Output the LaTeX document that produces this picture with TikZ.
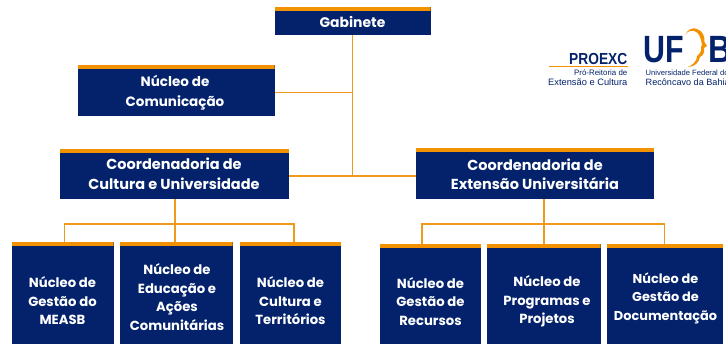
\documentclass[tikz,border=0pt]{standalone}
\usepackage{fontspec}
\newfontfamily\boxfont{Poppins}
\newfontfamily\logofont{Liberation Sans}
\definecolor{navy}{HTML}{03226B}
\definecolor{orng}{HTML}{F39200}
\definecolor{lline}{HTML}{F09A1C}
\tikzset{
 boxshape/.style={fill=navy,draw=none,inner sep=0pt,outer sep=0pt,
   path picture={\fill[orng] (path picture bounding box.north west) rectangle ([yshift=-4pt]path picture bounding box.north east);}},
 boxtext/.style={text=white,align=center,inner sep=0pt,font=\boxfont\bfseries\fontsize{13.2}{18.5}\selectfont},
 toptext/.style={text=white,align=center,inner sep=0pt,font=\boxfont\bfseries\fontsize{#1}{19.5}\selectfont},
 conn/.style={draw=lline,line width=1.9pt},
 logotxt/.style={inner sep=0pt,text=navy,font=\logofont}
}
% name, x1, y1, x2, y2
\newcommand{\orgbox}[5]{\node[boxshape,minimum width={(#4-#2)*1pt},minimum height={(#5-#3)*1pt}] (#1) at ({(#2+#4)/2},{(#3+#5)/2}) {};}
\begin{document}
\begin{tikzpicture}[x=1pt,y=-1pt]
\useasboundingbox (0,0) rectangle (726,344);
\begin{scope}
\clip (0,0) rectangle (726,344);
\orgbox{gab}{274.5}{7}{430.5}{35}
\orgbox{com}{78}{65}{274.5}{116}
\orgbox{cc}{60}{149}{289}{199.5}
\orgbox{ce}{416}{148}{654}{199.5}
\orgbox{n1}{12}{242}{113.5}{346}
\orgbox{n2}{120}{242}{232.5}{346}
\orgbox{n3}{239.5}{242}{341}{346}
\orgbox{n4}{379.5}{244}{481}{346}
\orgbox{n5}{487}{244}{600.5}{346}
\orgbox{n6}{607}{244}{723}{346}

\node[toptext=13.9] (tgab) at (352.5,22) {Gabinete};
\node[toptext=13.5] (tcom) at (175,92.5) {Núcleo de\\Comunicação};
\node[toptext=14.5] (tcc) at (174,174) {Coordenadoria de\\Cultura e Universidade};
\node[toptext=14.5] (tce) at (535,174.5) {Coordenadoria de\\Extensão Universitária};
\node[boxtext] (t1) at (62.5,301) {Núcleo de\\Gestão do\\MEASB};
\node[boxtext] (t2) at (177,297) {Núcleo de\\Educação e\\Ações\\Comunitárias};
\node[boxtext] (t3) at (290.5,301) {Núcleo de\\Cultura e\\Territórios};
\node[boxtext] (t4) at (430.5,301.5) {Núcleo de\\Gestão de\\Recursos};
\node[boxtext] (t5) at (547,301.5) {Núcleo de\\Programas e\\Projetos};
\node[boxtext,font=\boxfont\bfseries\fontsize{12.9}{18.5}\selectfont] (t6) at (665.5,298) {Núcleo de\\Gestão de\\Documentação};

\coordinate (jmain) at (352.5,176);
\coordinate (jcom) at (352.5,92.5);
\coordinate (jl) at (175,224);
\coordinate (jr) at (544,224);
\coordinate (bl1) at (64.5,224);
\coordinate (bl3) at (294,224);
\coordinate (br1) at (422,224);
\coordinate (br3) at (664.5,224);
\draw[conn] (gab.south) -- (jmain);
\draw[conn] (jcom -| com.east) -- (jcom);
\draw[conn] (jmain -| cc.east) -- (jmain -| ce.west);
\draw[conn] (jl |- cc.south) -- (jl |- n2.north);
\draw[conn] (jr |- ce.south) -- (jr |- n5.north);
\draw[conn] (bl1 |- n1.north) -- (bl1) -- (bl3) -- (bl3 |- n3.north);
\draw[conn] (br1 |- n4.north) -- (br1) -- (br3) -- (br3 |- n6.north);

% logos
\node[logotxt,font=\logofont\bfseries\fontsize{16}{16}\selectfont,anchor=east,xscale=0.86] (proexc) at (627.5,59) {PROEXC};
\coordinate (rulel) at (549,66.5);
\coordinate (ruler) at (627.5,66.5);
\draw[orng,line width=1pt] (rulel) -- (ruler);
\node[logotxt,font=\logofont\fontsize{7.9}{8}\selectfont,anchor=east] (pro) at (627.5,73) {Pró-Reitoria de};
\node[logotxt,font=\logofont\fontsize{9.3}{9.6}\selectfont,anchor=east] (ext) at (627.5,82.5) {Extensão e Cultura};
\node[logotxt,font=\logofont\bfseries\fontsize{38}{38}\selectfont,anchor=base west,xscale=0.8] (uf) at (643,63) {UF};
\node[logotxt,font=\logofont\bfseries\fontsize{38}{38}\selectfont,anchor=base west,xscale=0.85] (b) at (708.5,63) {B};
\node[logotxt,font=\logofont\fontsize{7.6}{8.4}\selectfont,anchor=west] (ufn) at (645.5,73) {Universidade Federal do};
\node[logotxt,font=\logofont\fontsize{9.1}{10.4}\selectfont,anchor=west] (ufr) at (645.5,82.5) {Recôncavo da Bahia};
\fill[orng] (685,35) .. controls (688,29) and (693,27) .. (697,29) .. controls (703,31) and (705,37) .. (704.5,42) -- (707,46) -- (704,48) .. controls (705,52) and (703,56) .. (700,57) .. controls (699,62) and (695,67) .. (688,67) .. controls (693,65) and (697,61) .. (697,56) .. controls (700,54) and (702,50) .. (701,47) -- (702,45) .. controls (701,38) and (699,32) .. (694,31) .. controls (690,30) and (687,32) .. (685,35) -- cycle;
\end{scope}
\end{tikzpicture}
\end{document}
